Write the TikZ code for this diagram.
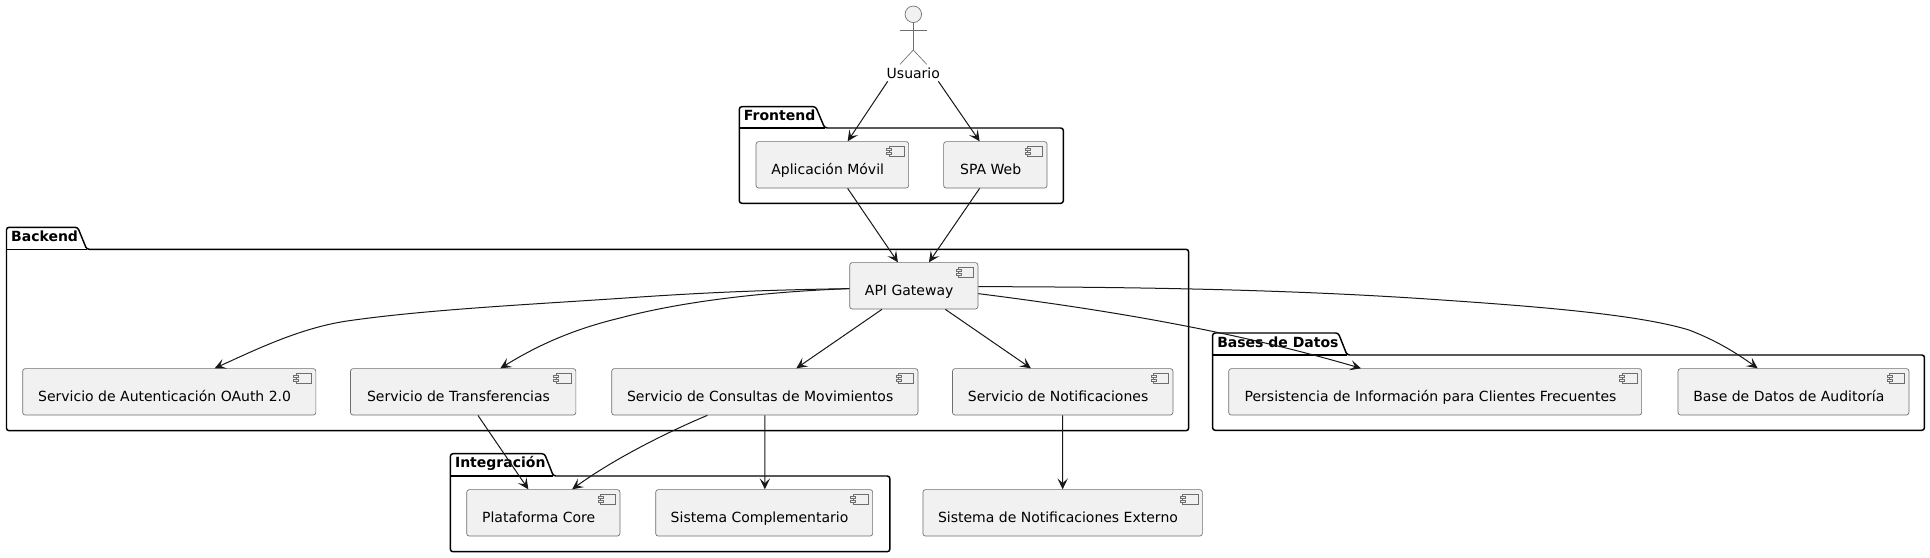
\documentclass[tikz,border=0pt]{standalone}
\usepackage{fontspec}
\setmainfont{DejaVu Sans}
\usetikzlibrary{arrows.meta,calc}
\definecolor{ln}{HTML}{181818}
\definecolor{edge}{HTML}{6E6E6E}
\definecolor{cfill}{HTML}{F1F1F1}
\tikzset{
  pkgline/.style={draw=black,line width=1.1pt,rounded corners=1.9pt,fill=white},
  compbox/.style={draw=edge,line width=0.5pt,rounded corners=1.9pt,fill=cfill,inner sep=0pt,anchor=north west,
    minimum height=34.8pt,text height=14.7pt,text depth=0pt,font=\fontsize{10.5pt}{12pt}\selectfont,text=black},
  compicon/.style={draw=edge,line width=0.5pt,fill=cfill},
  link/.style={draw=ln,line width=0.75pt,-{Stealth[length=8.2pt,width=7.8pt,inset=3.6pt]}},
  pkgtitle/.style={inner sep=0pt,anchor=base west,font=\fontsize{10.5pt}{12pt}\selectfont\bfseries},
  actorline/.style={draw=edge,line width=0.5pt},
}
\newcommand{\pkgshape}[8]{% left right tabtop bodytop bottom tabright tabbase name
  \path[pkgline] (#1,#4) -- (#1,#3) -- (#6,#3) -- (#7,#4) -- (#2,#4) -- (#2,#5) -- (#1,#5) -- cycle;
  \draw[line width=1.1pt,black] (#1,#4) -- (#7,#4);
  \node[pkgtitle] at (#1+4.4,#3+14) {#8};
}
\newcommand{\comp}[5]{% name x y w text
  \node[compbox,minimum width=#4*0.75pt] (#1) at (#2,#3) {#5\hspace*{7pt}};
  \begin{scope}[shift={(#1.north east)}]
    \path[compicon] (-20,4.7) rectangle (-4.7,15.4);
    \path[compicon] (-22.4,7) rectangle (-17.4,9.4);
    \path[compicon] (-22.4,10.7) rectangle (-17.4,13.1);
  \end{scope}
}
\begin{document}
\begin{tikzpicture}[x=0.75pt,y=-0.75pt]
\useasboundingbox (0,0) rectangle (1930,557);
\fill[white] (0,0) rectangle (1930,557);
% packages
\pkgshape{739.3}{1063.3}{106.7}{128}{203.3}{815.7}{824.7}{Frontend}
\pkgshape{6.5}{1188.6}{227.3}{249.3}{430.7}{77.7}{86.7}{Backend}
\pkgshape{1212.6}{1924.4}{333}{355}{430.3}{1338.3}{1347}{Bases de Datos}
\pkgshape{450.4}{889.8}{453.7}{476}{551.7}{544.5}{553.4}{Integración}
% actor
\node[inner sep=0pt,font=\fontsize{10.5pt}{12pt}\selectfont,text height=8pt,text depth=0pt,minimum width=52pt,minimum height=11pt] (usr) at (913.3,73) {Usuario};
\node[circle,draw=edge,line width=0.5pt,fill=cfill,minimum size=12.4pt,inner sep=0pt] (head) at (913.3,14.3) {};
\coordinate (hip) at (913.3,50);
\draw[actorline] (head.south) -- (hip);
\draw[actorline] (900,30) -- (926.7,30);
\draw[actorline] (900,64.3) -- (hip) -- (926.7,64.3);
% components
\comp{movil}{755.7}{141.3}{152.6}{Aplicación Móvil}
\comp{spa}{943.3}{141.3}{103.4}{SPA Web}
\comp{api}{849.4}{262.3}{128.2}{API Gateway}
\comp{auth}{22.4}{368.3}{293.1}{Servicio de Autenticación OAuth 2.0}
\comp{transf}{350.2}{368.3}{225.3}{Servicio de Transferencias}
\comp{cons}{611.4}{368.3}{306.2}{Servicio de Consultas de Movimientos}
\comp{notif}{952.2}{368.3}{220.4}{Servicio de Notificaciones}
\comp{persist}{1228.4}{368.3}{412.9}{Persistencia de Información para Clientes Frecuentes}
\comp{audit}{1677.7}{368.3}{230.9}{Base de Datos de Auditoría}
\comp{core}{466.4}{489.3}{153.2}{Plataforma Core}
\comp{compl}{655.4}{489.3}{216.9}{Sistema Complementario}
\comp{ext}{922.6}{489.3}{279.4}{Sistema de Notificaciones Externo}
% connectors
\draw[link] ([shift={(-25.6,8.3)}]usr.center) -- ([shift={(15.3,0)}]movil.north);
\draw[link] ([shift={(25,8.3)}]usr.center) -- ([shift={(-15.7,0)}]spa.north);
\draw[link] ([shift={(15.3,0)}]movil.south) -- ([shift={(-15.9,0)}]api.north);
\draw[link] ([shift={(-15.7,0)}]spa.south) -- ([shift={(15.1,0)}]api.north);
\draw[link] ([shift={(0,2.8)}]api.west) .. controls (760,290) and (700,293) .. (640,297) .. controls (540,304) and (430,309) .. (347,321) .. controls (300,328) and (255,350) .. ([shift={(45.35,0)}]auth.north);
\draw[link] ([shift={(0,2.8)}]api.west) .. controls (760,292) and (680,302) .. (620,318) .. controls (570,330) and (535,347) .. ([shift={(37.15,0)}]transf.north);
\draw[link] ([shift={(-31.9,0)}]api.south) -- ([shift={(31.5,0)}]cons.north);
\draw[link] ([shift={(31.5,0)}]api.south) -- ([shift={(-31.8,0)}]notif.north);
\draw[link] ([shift={(0,7.8)}]api.east) .. controls (1100,309) and (1230,330) .. ([shift={(-74.25,0)}]persist.north);
\draw[link] ([shift={(0,0.8)}]api.east) .. controls (1150,287) and (1300,290) .. (1442,300) .. controls (1545,307) and (1640,315) .. (1689,330) .. controls (1715,340) and (1735,352) .. ([shift={(-35.85,0)}]audit.north);
\draw[link] ([shift={(14.75,0)}]transf.south) -- ([shift={(-15,0)}]core.north);
\draw[link] ([shift={(-57.5,0)}]cons.south) .. controls (670,431) and (615,458) .. ([shift={(28.8,0)}]core.north);
\draw[link] (cons.south) -- ([shift={(0.65,0)}]compl.north);
\draw[link] (notif.south) -- (ext.north);
\end{tikzpicture}
\end{document}
